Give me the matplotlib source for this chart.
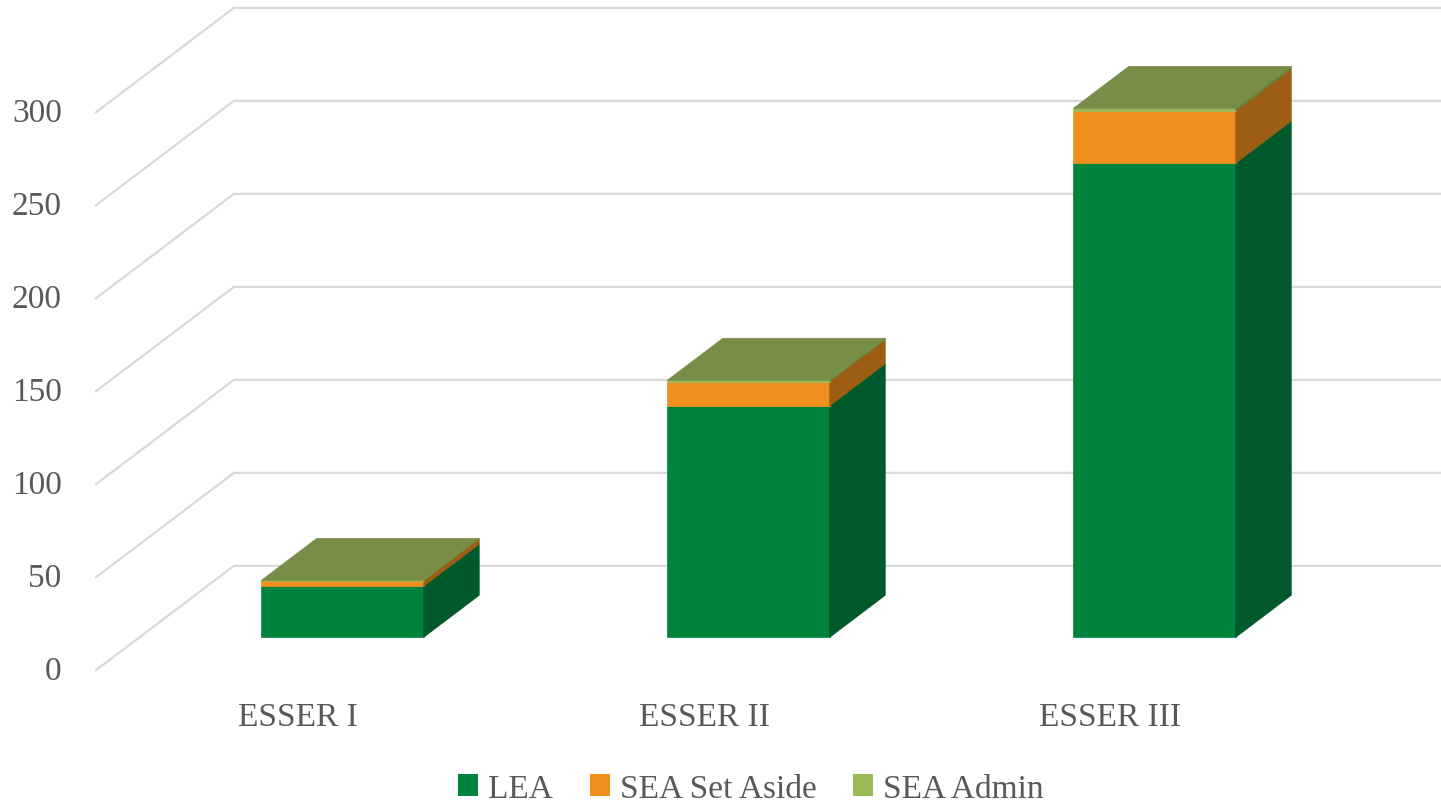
import matplotlib.pyplot as plt
from matplotlib.patches import Polygon, Patch

# datos (millones)
categorias = ['ESSER I', 'ESSER II', 'ESSER III']
lea = [27.5, 124.5, 255.0]
sea_set_aside = [2.9, 13.0, 28.0]
sea_admin = [0.2, 0.7, 1.4]
series = ['LEA', 'SEA Set Aside', 'SEA Admin']
ticks = [0, 50, 100, 150, 200, 250, 300]

# colores: frente, lateral
col_front = ['#00843D', '#F18F1E', '#9BBB59']
col_side = ['#00592B', '#9D5D12', '#66803A']
col_top = '#788D45'
col_grid = '#D9D9D9'
col_text = '#595959'

# proyeccion oblicua: profundidad d en [0,1]
DX = 0.342
DV = 56.5
d0, d1 = 0.32, 0.72
ancho = 0.2


def proj(x, v, d):
    return (x + d * DX, v + d * DV)


plt.rcParams['font.family'] = ['Liberation Serif', 'DejaVu Serif']
fig = plt.figure(figsize=(14.41, 8.04), dpi=100)
ax = fig.add_axes([0, 0, 1, 1])
ax.set_xlim(-0.734, 2.815)
ax.set_ylim(-71, 361.3)
ax.axis('off')

# rejilla: diagonal en el suelo lateral + linea en la pared del fondo
for t in ticks:
    p0 = proj(-0.5, t, 0)
    p1 = proj(-0.5, t, 1)
    p2 = proj(2.6, t, 1)
    ax.plot([p0[0], p1[0], p2[0]], [p0[1], p1[1], p2[1]],
            color=col_grid, lw=1.6, zorder=1, solid_capstyle='butt')
    ax.text(-0.582, t, str(t), ha='right', va='center',
            fontsize=24, color=col_text)

# barras apiladas
for i, cat in enumerate(categorias):
    vals = [lea[i], sea_set_aside[i], sea_admin[i]]
    x0, x1 = i - ancho, i + ancho
    base = 0
    for k, v in enumerate(vals):
        top = base + v
        front = [proj(x0, base, d0), proj(x1, base, d0),
                 proj(x1, top, d0), proj(x0, top, d0)]
        side = [proj(x1, base, d0), proj(x1, base, d1),
                proj(x1, top, d1), proj(x1, top, d0)]
        ax.add_patch(Polygon(front, closed=True, fc=col_front[k], ec=col_front[k], lw=0.5, zorder=3))
        ax.add_patch(Polygon(side, closed=True, fc=col_side[k], ec=col_side[k], lw=0.5, zorder=3))
        base = top
    tapa = [proj(x0, base, d0), proj(x1, base, d0),
            proj(x1, base, d1), proj(x0, base, d1)]
    ax.add_patch(Polygon(tapa, closed=True, fc=col_top, ec=col_top, lw=0.5, zorder=4))
    ax.text(i, -24.7, cat, ha='center', va='center', fontsize=24, color=col_text)

handles = [Patch(fc=c, ec='none') for c in col_front]
leg = fig.legend(handles, series, loc='center', bbox_to_anchor=(0.521, 0.018),
                 ncol=3, frameon=False, fontsize=24, handlelength=0.6,
                 handleheight=0.6, handletextpad=0.3, columnspacing=1.1,
                 labelcolor=col_text)

fig.savefig('out.png', dpi=100)
